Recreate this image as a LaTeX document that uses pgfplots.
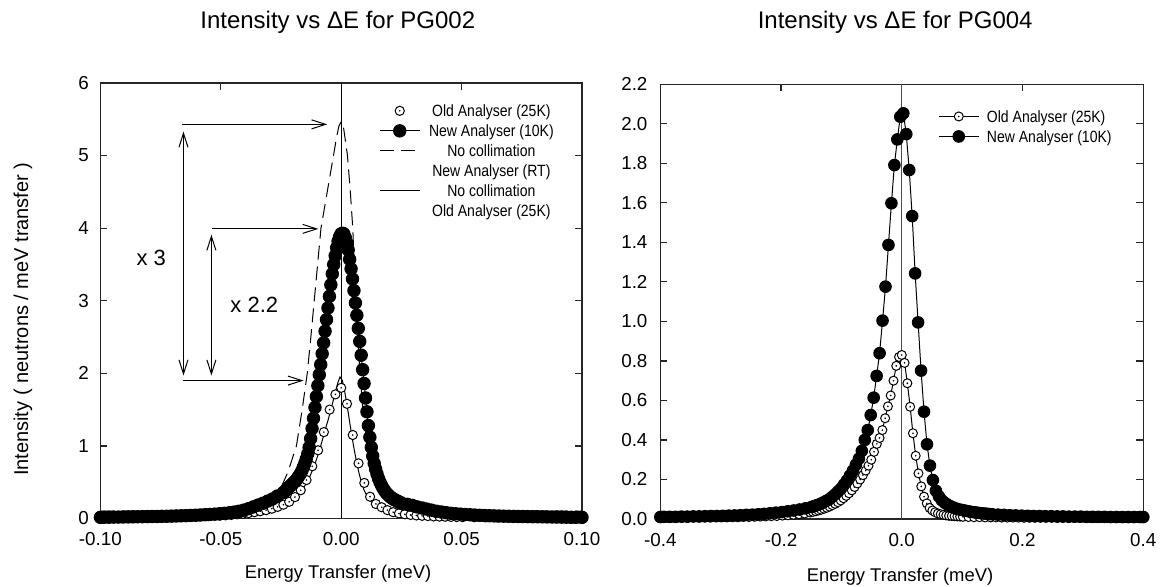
\documentclass[border=0pt]{standalone}
\usepackage{pgfplots}
\pgfplotsset{compat=1.18}
\usetikzlibrary{arrows.meta}
\usepackage{fontspec}
\setmainfont{Liberation Sans}
\newfontfamily\narrowfont[FakeStretch=0.86]{Liberation Sans}
\newcommand\tickfont{\fontsize{9.4}{11}\selectfont}
\newcommand\labfont{\fontsize{9.2}{11}\selectfont}
\newcommand\ylabfont{\fontsize{10}{12}\selectfont}
\newcommand\titfont{\fontsize{12}{14}\selectfont}
\newcommand\legfont{\narrowfont\fontsize{8.15}{10}\selectfont}
\newcommand\annfont{\fontsize{11}{13}\selectfont}

\pgfdeclareplotmark{odot}{%
  \pgfpathcircle{\pgfpointorigin}{\pgfplotmarksize}%
  \pgfusepathqfillstroke
  \begin{pgfscope}\pgfsetfillcolor{black}%
  \pgfpathcircle{\pgfpointorigin}{0.45pt}\pgfusepathqfill\end{pgfscope}}

\tikzset{barb/.style={line width=0.5pt, black}}
\pgfplotsset{
  myaxis/.style={scale only axis, clip=false, scaled ticks=false,
    tick align=inside, major tick length=3.5pt,
    axis line style={line width=0.6pt, black!85},
    every tick/.style={line width=0.6pt, black!85},
    tick label style={font=\tickfont},
    /pgf/number format/assume math mode=true,
    legend image code/.code={\draw[mark repeat=2,mark phase=2,##1] plot coordinates {(0pt,0pt) (10pt,0pt) (20pt,0pt)};},
  },
  filledA/.style={black, line width=0.5pt, mark=*, mark size=3.1pt, mark options={solid, fill=black}},
  openA/.style={black, line width=0.5pt, mark=odot, mark size=2.3pt, mark options={solid, fill=white, line width=0.5pt}},
  filledB/.style={black, line width=0.5pt, mark=*, mark size=2.9pt, mark options={solid, fill=black}},
  openB/.style={black, line width=0.5pt, mark=odot, mark size=2.25pt, mark options={solid, fill=white, line width=0.5pt}},
}

\begin{document}
\begin{tikzpicture}
\path[use as bounding box] (0pt,0pt) rectangle (580pt,293.5pt);

% ---------------- left panel ----------------
\begin{axis}[myaxis, at={(50.2pt,34.25pt)}, anchor=south west,
  width=240.8pt, height=217.75pt,
  xmin=-0.1, xmax=0.1, ymin=0, ymax=6,
  xtick={-0.1,-0.05,0,0.05,0.1}, ytick={0,1,2,3,4,5,6},
  xticklabel style={/pgf/number format/.cd, fixed, fixed zerofill, precision=2, /tikz/.cd, yshift=-3.6pt},
  yticklabel style={xshift=-2.2pt},
  legend style={at={(0.579,0.959)}, anchor=north west, draw=none, fill=none,
    inner sep=0pt, outer sep=0pt, row sep=0pt, font=\legfont,
    nodes={inner sep=0pt, text height=8pt, text depth=2pt},
    /tikz/every odd column/.append style={column sep=4.4pt}},
  legend cell align=center,
]
\addlegendimage{draw=white, mark=odot, mark size=2.3pt, mark options={solid, draw=black, fill=white, line width=0.5pt}}
\addlegendentry{Old Analyser (25K)}
\addlegendimage{filledA}
\addlegendentry{New Analyser (10K)}
\addlegendimage{black, line width=0.5pt, dash pattern=on 7pt off 3.5pt}
\addlegendentry{No collimation}
\addlegendimage{empty legend}
\addlegendentry{New Analyser (RT)}
\addlegendimage{black, line width=0.5pt}
\addlegendentry{No collimation}
\addlegendimage{empty legend}
\addlegendentry{Old Analyser (25K)}

% dashed: no collimation, new analyser (RT)
\addplot[black, line width=0.5pt, dash pattern=on 7pt off 3.5pt, forget plot] coordinates {
(-0.1,0.1) (-0.07,0.102) (-0.05,0.107) (-0.042,0.12) (-0.036,0.15) (-0.032,0.21) (-0.029,0.30) (-0.0248,0.44) (-0.022,0.65) (-0.0186,1.0) (-0.0162,1.5) (-0.0141,2.0) (-0.0126,2.5) (-0.0112,3.0) (-0.0098,3.5) (-0.0084,4.0) (-0.0071,4.25) (-0.0058,4.5) (-0.0045,4.75) (-0.0032,5.0) (-0.002,5.24) (-0.001,5.40) (0,5.47) (0.001,5.38) (0.0026,5.0) (0.0038,4.5) (0.0048,4.0) (0.0054,3.5) (0.006,3.0) (0.0068,2.5) (0.0078,2.0) (0.009,1.5) (0.0108,1.0) (0.0135,0.6) (0.0165,0.38) (0.02,0.24) (0.025,0.16) (0.03,0.125) (0.04,0.11) (0.06,0.103) (0.1,0.1)
};

% open circles: old analyser (25K)
\addplot[openA, only marks, forget plot] coordinates {
(-0.0984,0.012) (-0.0936,0.013) (-0.0888,0.014) (-0.0840,0.015) (-0.0792,0.016) (-0.0744,0.018) (-0.0696,0.020) (-0.0648,0.023) (-0.0600,0.027) (-0.0552,0.032) (-0.0504,0.039) (-0.0480,0.044) (-0.0456,0.050) (-0.0432,0.057) (-0.0408,0.065) (-0.0384,0.075) (-0.0360,0.087) (-0.0336,0.100) (-0.0312,0.115) (-0.0288,0.135) (-0.0264,0.160) (-0.0240,0.190) (-0.0216,0.230) (-0.0192,0.295) (-0.0168,0.390) (-0.0144,0.530) (-0.0120,0.720) (-0.0096,0.940) (-0.0072,1.190) (-0.0048,1.500) (-0.0024,1.710) (0,1.800) (0.0024,1.580) (0.0048,1.150) (0.0072,0.760) (0.0096,0.490) (0.0120,0.300) (0.0144,0.200) (0.0168,0.155) (0.0192,0.115) (0.0216,0.087) (0.0240,0.070) (0.0264,0.058) (0.0288,0.049) (0.0312,0.042) (0.0336,0.037) (0.0360,0.033) (0.0384,0.029) (0.0408,0.026) (0.0432,0.024) (0.0456,0.022) (0.0480,0.020) (0.0504,0.019) (0.0552,0.017) (0.0600,0.016) (0.0648,0.015) (0.0696,0.014) (0.0744,0.013) (0.0792,0.013) (0.0840,0.012) (0.0888,0.012) (0.0936,0.011) (0.0984,0.011)
};

% filled: new analyser (10K)
\addplot[filledA, forget plot] coordinates {
(-0.1000,0.016) (-0.0985,0.017) (-0.0965,0.018) (-0.0945,0.019) (-0.0925,0.020) (-0.0905,0.021) (-0.0885,0.022) (-0.0865,0.023) (-0.0845,0.024) (-0.0825,0.025) (-0.0805,0.026) (-0.0785,0.027) (-0.0765,0.028) (-0.0745,0.030) (-0.0725,0.031) (-0.0705,0.033) (-0.0685,0.035) (-0.0665,0.037) (-0.0645,0.039) (-0.0625,0.042) (-0.0605,0.045) (-0.0585,0.048) (-0.0565,0.052) (-0.0545,0.056) (-0.0525,0.060) (-0.0505,0.065) (-0.0485,0.071) (-0.0465,0.078) (-0.0445,0.088) (-0.0425,0.100) (-0.0405,0.115) (-0.0385,0.135) (-0.0365,0.16) (-0.0345,0.185) (-0.0325,0.21) (-0.0305,0.24) (-0.0285,0.27) (-0.0265,0.31)
(-0.0241,0.355) (-0.0235,0.37) (-0.0229,0.39) (-0.0223,0.41) (-0.0217,0.43) (-0.0211,0.45) (-0.0205,0.47) (-0.0199,0.49) (-0.0193,0.51) (-0.0187,0.53) (-0.0181,0.56) (-0.0175,0.59) (-0.0169,0.62) (-0.0163,0.66) (-0.0157,0.71) (-0.0151,0.76) (-0.0145,0.82) (-0.0139,0.89) (-0.0133,0.98) (-0.0127,1.10) (-0.0121,1.24) (-0.0115,1.38) (-0.0109,1.53) (-0.0103,1.68) (-0.0097,1.83) (-0.0091,1.98) (-0.0085,2.12) (-0.0079,2.27) (-0.0073,2.42) (-0.0067,2.58) (-0.0061,2.74) (-0.0055,2.90) (-0.0049,3.06) (-0.0043,3.22) (-0.0037,3.37) (-0.0031,3.50) (-0.0025,3.62) (-0.0019,3.73) (-0.0013,3.82) (-0.0007,3.88) (-0.0001,3.92) (0.0005,3.93)
(0.0011,3.92) (0.0017,3.87) (0.0023,3.80) (0.0029,3.70) (0.0035,3.57) (0.0041,3.44) (0.0047,3.30) (0.0053,3.14) (0.0059,2.97) (0.0065,2.80) (0.0071,2.62) (0.0077,2.44) (0.0083,2.25) (0.0089,2.05) (0.0095,1.86) (0.0101,1.66) (0.0107,1.47) (0.0113,1.28) (0.0119,1.12) (0.0125,0.98) (0.0131,0.86) (0.0137,0.76) (0.0143,0.68) (0.0149,0.61) (0.0155,0.55) (0.0161,0.50) (0.0167,0.46) (0.0173,0.42) (0.0179,0.39) (0.0185,0.36) (0.0191,0.34) (0.0197,0.32) (0.0203,0.30) (0.0209,0.285) (0.0215,0.27) (0.0221,0.26) (0.0227,0.25) (0.0233,0.24) (0.0239,0.23) (0.0245,0.22) (0.0251,0.21)
(0.0275,0.195) (0.0295,0.18) (0.0315,0.16) (0.0335,0.145) (0.0355,0.13) (0.0375,0.115) (0.0395,0.10) (0.0415,0.09) (0.0435,0.08) (0.0455,0.072) (0.0475,0.065) (0.0495,0.06) (0.0515,0.055) (0.0535,0.051) (0.0555,0.047) (0.0575,0.044) (0.0595,0.041) (0.0615,0.038) (0.0635,0.036) (0.0655,0.034) (0.0675,0.032) (0.0695,0.031) (0.0715,0.029) (0.0735,0.028) (0.0755,0.027) (0.0775,0.026) (0.0795,0.025) (0.0815,0.024) (0.0835,0.023) (0.0855,0.022) (0.0875,0.021) (0.0895,0.020) (0.0915,0.019) (0.0935,0.018) (0.0955,0.017) (0.0975,0.016) (0.1000,0.015)
};

% solid: no collimation, old analyser (25K)
\addplot[black, line width=0.5pt, forget plot] coordinates {
(-0.1,0.02) (-0.08,0.025) (-0.06,0.035) (-0.05,0.045) (-0.04,0.07) (-0.035,0.09) (-0.03,0.12) (-0.026,0.16) (-0.023,0.20) (-0.020,0.26) (-0.018,0.32) (-0.016,0.40) (-0.014,0.51) (-0.0125,0.62) (-0.0115,0.70) (-0.0105,0.79) (-0.0095,0.89) (-0.0085,1.00) (-0.0075,1.12) (-0.0065,1.24) (-0.0055,1.35) (-0.0045,1.47) (-0.0035,1.60) (-0.0025,1.73) (-0.0015,1.86) (-0.0005,1.95) (0.0005,1.90) (0.0015,1.74) (0.0025,1.55) (0.0035,1.33) (0.0045,1.12) (0.0055,0.93) (0.0065,0.76) (0.0075,0.61) (0.0085,0.49) (0.0095,0.39) (0.011,0.29) (0.013,0.21) (0.015,0.16) (0.018,0.12) (0.022,0.085) (0.027,0.065) (0.035,0.045) (0.05,0.03) (0.07,0.022) (0.1,0.018)
};

% zero line
\addplot[black, line width=0.5pt, forget plot] coordinates {(0,0) (0,6)};

% annotations
\draw[barb, -{Straight Barb[length=7pt,width=4.5pt]}] (axis cs:-0.0662,5.43) -- (axis cs:-0.0058,5.43);
\draw[barb, {Straight Barb[length=7pt,width=4.5pt]}-{Straight Barb[length=7pt,width=4.5pt]}] (axis cs:-0.0655,5.33) -- (axis cs:-0.0655,1.97);
\draw[barb, -{Straight Barb[length=7pt,width=4.5pt]}] (axis cs:-0.0536,3.99) -- (axis cs:-0.0095,3.99);
\draw[barb, {Straight Barb[length=7pt,width=4.5pt]}-{Straight Barb[length=7pt,width=4.5pt]}] (axis cs:-0.0539,3.91) -- (axis cs:-0.0539,1.97);
\draw[barb, -{Straight Barb[length=7pt,width=4.5pt]}] (axis cs:-0.0655,1.90) -- (axis cs:-0.0156,1.90);
\node[font=\annfont] at (axis cs:-0.0789,3.59) {x 3};
\node[font=\annfont] at (axis cs:-0.0361,2.94) {x 2.2};
\end{axis}

% ---------------- right panel ----------------
\begin{axis}[myaxis, at={(330.15pt,34pt)}, anchor=south west,
  width=241.5pt, height=217.35pt,
  xmin=-0.4, xmax=0.4, ymin=0, ymax=2.2,
  xtick={-0.4,-0.2,0,0.2,0.4},
  ytick={0,0.2,0.4,0.6,0.8,1.0,1.2,1.4,1.6,1.8,2.0,2.2},
  xticklabel style={/pgf/number format/.cd, fixed, fixed zerofill, precision=1, /tikz/.cd, yshift=-3.6pt},
  yticklabel style={/pgf/number format/.cd, fixed, fixed zerofill, precision=1, /tikz/.cd, xshift=-2.9pt},
  legend style={at={(0.5755,0.949)}, anchor=north west, draw=none, fill=none,
    inner sep=0pt, outer sep=0pt, row sep=0pt, font=\legfont,
    nodes={inner sep=0pt, text height=8pt, text depth=2pt},
    /tikz/every odd column/.append style={column sep=3.85pt}},
  legend cell align=left,
]
\addlegendimage{openB}
\addlegendentry{Old Analyser (25K)}
\addlegendimage{filledB}
\addlegendentry{New Analyser (10K)}

\addplot[openB, forget plot] coordinates {
(-0.4,0.005) (-0.391,0.006) (-0.3818,0.006) (-0.3726,0.006) (-0.3634,0.006) (-0.3542,0.006) (-0.345,0.007) (-0.3358,0.007) (-0.3266,0.007) (-0.3174,0.007) (-0.3082,0.008) (-0.299,0.008) (-0.2898,0.008) (-0.2806,0.009) (-0.2714,0.009) (-0.2622,0.010) (-0.253,0.010) (-0.2438,0.011) (-0.2346,0.012) (-0.2254,0.013) (-0.2162,0.014) (-0.207,0.015) (-0.1978,0.017) (-0.1886,0.019) (-0.1794,0.021) (-0.1702,0.024) (-0.161,0.028) (-0.1518,0.033) (-0.1472,0.036) (-0.1426,0.039) (-0.138,0.043) (-0.1334,0.047) (-0.1288,0.052) (-0.1242,0.057) (-0.1196,0.063) (-0.115,0.070) (-0.1104,0.077) (-0.1058,0.085) (-0.1012,0.094) (-0.0966,0.105) (-0.092,0.117) (-0.0874,0.130) (-0.0828,0.145) (-0.0782,0.162) (-0.0736,0.180) (-0.069,0.200) (-0.0644,0.222) (-0.0598,0.245) (-0.0552,0.270) (-0.0506,0.300) (-0.046,0.340) (-0.0414,0.380) (-0.0368,0.410) (-0.0322,0.450) (-0.0276,0.510) (-0.023,0.570) (-0.0184,0.625) (-0.0138,0.700) (-0.0092,0.775) (-0.0046,0.820) (0,0.830) (0.0046,0.790) (0.0092,0.687) (0.0138,0.568) (0.0184,0.434) (0.023,0.320) (0.0276,0.231) (0.0322,0.165) (0.0368,0.113) (0.0414,0.079) (0.046,0.056) (0.0506,0.043) (0.0552,0.034) (0.0598,0.028) (0.0644,0.024) (0.069,0.021) (0.0736,0.018) (0.0782,0.016) (0.0828,0.015) (0.0874,0.014) (0.092,0.013) (0.0966,0.012) (0.1012,0.011) (0.1104,0.010) (0.1196,0.009) (0.1288,0.009) (0.138,0.008) (0.1472,0.008) (0.1564,0.008) (0.1656,0.007) (0.1748,0.007) (0.184,0.007) (0.1932,0.007) (0.2024,0.006) (0.2116,0.006) (0.2208,0.006) (0.23,0.006) (0.2392,0.006) (0.2484,0.006) (0.2576,0.005) (0.2668,0.005) (0.276,0.005) (0.2852,0.005) (0.2944,0.005) (0.3036,0.005) (0.3128,0.005) (0.322,0.005) (0.3312,0.005) (0.3404,0.005) (0.3496,0.005) (0.3588,0.005) (0.368,0.005) (0.3772,0.005) (0.3864,0.005) (0.3956,0.005)
};

\addplot[filledB, forget plot] coordinates {
(-0.4,0.010) (-0.3945,0.011) (-0.3847,0.011) (-0.3749,0.011) (-0.3651,0.012) (-0.3553,0.012) (-0.3455,0.013) (-0.3357,0.013) (-0.3259,0.014) (-0.3161,0.015) (-0.3063,0.015) (-0.2965,0.016) (-0.2867,0.017) (-0.2769,0.018) (-0.2671,0.019) (-0.2573,0.021) (-0.2475,0.022) (-0.2377,0.024) (-0.2279,0.026) (-0.2181,0.029) (-0.2083,0.032) (-0.1985,0.035) (-0.1887,0.039) (-0.1789,0.043) (-0.1691,0.048) (-0.1593,0.054) (-0.1495,0.061) (-0.1446,0.066) (-0.1397,0.071) (-0.1348,0.077) (-0.1299,0.084) (-0.125,0.092) (-0.1201,0.100) (-0.1152,0.112) (-0.1103,0.125) (-0.1054,0.140) (-0.1005,0.155) (-0.0956,0.175) (-0.0907,0.195) (-0.0858,0.220) (-0.0809,0.245) (-0.076,0.275) (-0.0711,0.305) (-0.0662,0.345) (-0.0613,0.400) (-0.0564,0.450) (-0.0515,0.526) (-0.0466,0.614) (-0.0417,0.724) (-0.0368,0.839) (-0.0319,1.004) (-0.027,1.176) (-0.0221,1.387) (-0.0172,1.598) (-0.0123,1.791) (-0.0074,1.921) (-0.0025,2.036) (0.0025,2.053) (0.0074,1.948) (0.0123,1.766) (0.0172,1.533) (0.0221,1.243) (0.027,0.995) (0.0319,0.751) (0.0368,0.543) (0.0417,0.378) (0.0466,0.270) (0.0515,0.197) (0.0564,0.143) (0.0613,0.115) (0.0662,0.095) (0.0711,0.082) (0.076,0.072) (0.0809,0.064) (0.0858,0.058) (0.0907,0.052) (0.0956,0.048) (0.1005,0.045) (0.1054,0.042) (0.1103,0.039) (0.1152,0.036) (0.1201,0.034) (0.125,0.032) (0.1299,0.030) (0.1348,0.028) (0.1397,0.027) (0.1446,0.025) (0.1495,0.024) (0.1593,0.022) (0.1691,0.021) (0.1789,0.019) (0.1887,0.018) (0.1985,0.017) (0.2083,0.016) (0.2181,0.015) (0.2279,0.015) (0.2377,0.014) (0.2475,0.014) (0.2573,0.013) (0.2671,0.013) (0.2769,0.012) (0.2867,0.012) (0.2965,0.012) (0.3063,0.011) (0.3161,0.011) (0.3259,0.011) (0.3357,0.011) (0.3455,0.010) (0.3553,0.010) (0.3651,0.010) (0.3749,0.010) (0.3847,0.010) (0.3945,0.010) (0.4,0.010)
};

\addplot[black!70, line width=0.6pt, forget plot] coordinates {(0,0) (0,2.2)};
\end{axis}

% titles and labels
\node[anchor=base west, font=\titfont] at (96.65pt,279.35pt) {Intensity vs ΔE for PG002};
\node[anchor=base west, font=\titfont] at (375.35pt,279.35pt) {Intensity vs ΔE for PG004};
\node[anchor=base, font=\labfont] at (169pt,4.35pt) {Energy Transfer (meV)};
\node[anchor=base, font=\labfont] at (450pt,2.65pt) {Energy Transfer (meV)};
\node[rotate=90, font=\ylabfont] at (11.5pt,133.9pt) {Intensity ( neutrons / meV transfer )};
\end{tikzpicture}
\end{document}
